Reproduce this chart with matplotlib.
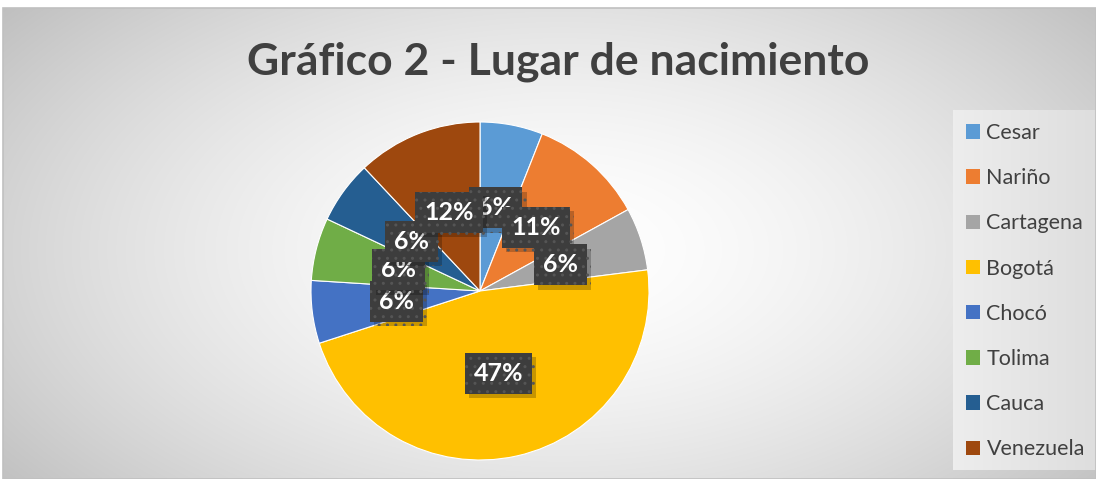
import numpy as np
import matplotlib
matplotlib.use("Agg")
import matplotlib.pyplot as plt
import matplotlib.patheffects as pe
from matplotlib.patches import Rectangle, Patch

categories = ["Cesar", "Nariño", "Cartagena", "Bogotá", "Chocó", "Tolima", "Cauca", "Venezuela"]
values = [6, 11, 6, 47, 6, 6, 6, 12]
colors = ["#5B9BD5", "#ED7D31", "#A5A5A5", "#FFC000", "#4472C4", "#70AD47", "#255E91", "#9E480E"]
title = "Gráfico 2 - Lugar de nacimiento"

FONT = ["Lato", "DejaVu Sans"]
W, H = 1096, 479
fig = plt.figure(figsize=(W / 100, H / 100), dpi=100, facecolor="white")

# background (pixel coordinates)
bg = fig.add_axes([0, 0, 1, 1], zorder=-1)
bg.set_xlim(0, W)
bg.set_ylim(H, 0)
bg.axis("off")
x0, y0 = 3, 8
xx, yy = np.meshgrid(np.linspace(x0, W, 400), np.linspace(y0, H, 200))
r = np.sqrt(((xx - 560) / 600) ** 2 + ((yy - 250) / 330) ** 2)
g = np.clip(1 - 0.19 * r ** 1.6, 0.75, 1)
bg.imshow(np.dstack([g, g, g]), extent=(x0, W, H, y0), aspect="auto", interpolation="bilinear")
bg.add_patch(Rectangle((x0, y0), W - x0, H - y0, fill=False, ec="#c0c0c0", lw=1.2))
# legend box
leg_grad = np.linspace(0.93, 0.87, 100)[None, :]
bg.imshow(np.dstack([leg_grad] * 3), extent=(953, W, 470, 110), aspect="auto", interpolation="bilinear")

# pie
cx, cy, R = 480, 291, 169
ax = fig.add_axes([(cx - R) / W, (H - cy - R) / H, 2 * R / W, 2 * R / H])
wedges, texts, autotexts = ax.pie(
    values, colors=colors, startangle=90, counterclock=False,
    autopct=lambda p: f"{p:.0f}%", pctdistance=0.5,
    wedgeprops=dict(edgecolor="white", linewidth=0.8),
    textprops=dict(color="white", fontsize=18, fontweight="bold", fontfamily=FONT),
)
ax.set_xlim(-1, 1)
ax.set_ylim(-1, 1)
for t in autotexts:
    t.set_bbox(dict(boxstyle="square,pad=0.36", fc="#3d3d3d", ec="#555555", lw=0, hatch=".."))
    t.get_bbox_patch().set_path_effects([
        pe.withSimplePatchShadow(offset=(3, -3), shadow_rgbFace="black", alpha=0.22)])

fig.text(558 / W, 1 - 62 / H, title, ha="center", va="center", fontsize=32,
         fontweight="bold", color="#404040", family=FONT)

handles = [Patch(facecolor=c, edgecolor="none") for c in colors]
leg = fig.legend(handles, categories, loc="upper left", bbox_to_anchor=(966 / W, 1 - 123 / H),
                 frameon=False, prop=dict(family=FONT, size=15.5), labelcolor="#404040",
                 handlelength=0.65, handleheight=0.65, handletextpad=0.3,
                 labelspacing=1.17, borderpad=0, borderaxespad=0)

fig.savefig("out.png", dpi=100, facecolor="white")
